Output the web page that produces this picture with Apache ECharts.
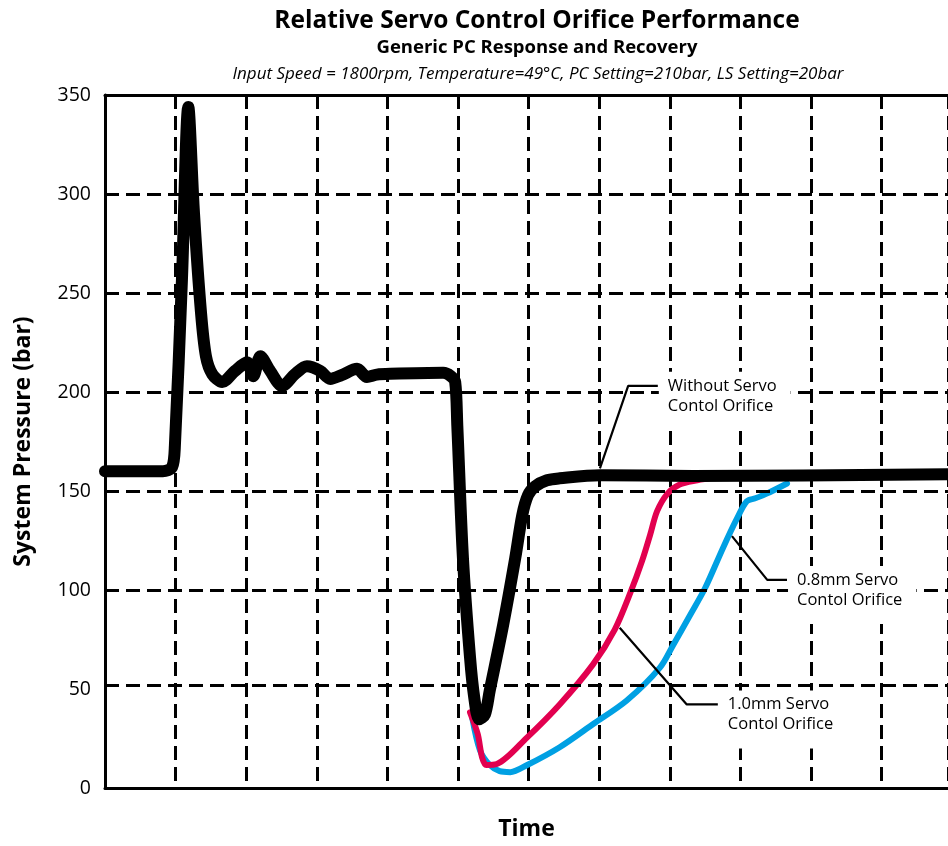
<!DOCTYPE html>
<html><head><meta charset="utf-8">
<script src="https://cdn.jsdelivr.net/npm/echarts@6/dist/echarts.min.js"></script>
<style>html,body{margin:0;padding:0;background:#fff}#c{width:948px;height:846px}</style>
</head><body><div id="c"></div>
<script>
// ---- data ----
const yTicks = [0, 50, 100, 150, 200, 250, 300, 350];
const yGridLines = [300, 250, 200, 150, 100, 52];

const blackX = [0, 0.82, 0.95, 0.99, 1.09, 1.18, 1.26, 1.36, 1.43, 1.52, 1.66, 1.84, 2.01, 2.10, 2.20, 2.34, 2.51, 2.69, 2.86, 3.05, 3.19, 3.35, 3.57, 3.71, 3.85, 4.04, 4.79, 4.90, 4.96, 4.99, 5.07, 5.17, 5.23, 5.30, 5.38, 5.45, 5.64, 5.81, 5.91, 5.99, 6.09, 6.26, 6.44, 7.01, 8.33, 11.94];
const blackY = [160, 160, 162, 173, 257, 344, 290.6, 240, 218, 209, 205, 210.6, 215, 208, 218, 210.6, 203, 209, 213, 210.6, 206.6, 208.5, 211.7, 207.6, 208.8, 209.2, 209.7, 208, 205, 183, 116, 66, 45.7, 34.7, 37, 49.3, 82.5, 116, 137.8, 147.8, 152.3, 155.4, 156.4, 158, 157.6, 158.4];

const redX = [5.17, 5.28, 5.34, 5.40, 5.55, 5.98, 6.44, 6.91, 7.22, 7.44, 7.61, 7.72, 7.82, 7.97, 8.14, 8.39, 8.64];
const redY = [38.2, 27.1, 15.6, 11.6, 12.1, 25.6, 42.2, 62.3, 80, 98.5, 115, 127.7, 139.8, 148.8, 153.3, 155.4, 156.9];

const blueX = [5.20, 5.31, 5.45, 5.59, 5.74, 5.98, 6.44, 6.91, 7.39, 7.86, 8.05, 8.29, 8.50, 8.75, 8.95, 9.09, 9.21, 9.38, 9.66];
const blueY = [35.7, 19.1, 11.6, 8.5, 8.0, 11.6, 20.6, 32.2, 44.2, 60.8, 72.4, 87.5, 101, 121, 136, 144.8, 146.3, 148.8, 153.8];

// annotation leaders (data units)
const leaderWithout = [[7.01, 161.4], [7.41, 203.1], [7.83, 203.1]];
const leader08 = [[8.88, 127.2], [9.38, 105.1], [9.66, 105.1]];
const leader10 = [[7.29, 80.9], [8.24, 42.2], [8.68, 42.2]];
const labelTexts = ['Without Servo\nContol Orifice', '0.8mm Servo\nContol Orifice', '1.0mm Servo\nContol Orifice'];

const titleText = 'Relative Servo Control Orifice Performance';
const subtitleText = 'Generic PC Response and Recovery';
const conditionsText = 'Input Speed = 1800rpm, Temperature=49°C, PC Setting=210bar, LS Setting=20bar';

// ---- chart ----
const zip = (xs, ys) => xs.map((x, i) => [x, ys[i]]);
const FONT = '"Open Sans", "Noto Sans", sans-serif';
const dash = [14, 7];
const leaders = [leaderWithout, leader08, leader10];

const chart = echarts.init(document.getElementById('c'), null, { renderer: 'canvas' });
const headerGraphics = [
  { type: 'text', x: 537, y: 21, style: { text: titleText, font: 'bold 24.5px ' + FONT, fill: '#000', textAlign: 'center', textVerticalAlign: 'middle' } },
  { type: 'text', x: 537, y: 48, style: { text: subtitleText, font: 'bold 18.5px ' + FONT, fill: '#000', textAlign: 'center', textVerticalAlign: 'middle' } },
  { type: 'text', x: 538, y: 74, style: { text: conditionsText, font: 'italic 17px ' + FONT, fill: '#000', textAlign: 'center', textVerticalAlign: 'middle' } }
];
chart.setOption({
  animation: false,
  backgroundColor: '#fff',
  grid: { left: 105, right: 0, top: 95, bottom: 55, containLabel: false },
  graphic: headerGraphics,
  xAxis: [
    {
      type: 'value', min: 0, max: 11.94, interval: 1,
      name: 'Time', nameLocation: 'middle', nameGap: 30,
      nameTextStyle: { fontFamily: FONT, fontWeight: 'bold', fontSize: 23, color: '#000' },
      axisLine: { show: true, lineStyle: { color: '#000', width: 3 } },
      axisTick: { show: false }, axisLabel: { show: false },
      splitLine: { show: true, lineStyle: { color: '#000', width: 3, type: dash } }
    },
    {
      type: 'value', position: 'top', min: 0, max: 11.94,
      axisLine: { show: true, lineStyle: { color: '#000', width: 3 } },
      axisTick: { show: false }, axisLabel: { show: false }, splitLine: { show: false }
    }
  ],
  yAxis: {
    type: 'value', min: 0, max: 350, interval: 50,
    name: 'System Pressure (bar)', nameLocation: 'middle', nameGap: 70, nameRotate: 90,
    nameTextStyle: { fontFamily: FONT, fontWeight: 'bold', fontSize: 23, color: '#000' },
    axisLine: { show: true, lineStyle: { color: '#000', width: 3 } },
    axisTick: { show: false },
    axisLabel: { fontFamily: FONT, fontSize: 19.5, color: '#000', margin: 14,
      formatter: v => (yTicks.indexOf(v) >= 0 ? String(v) : '') },
    splitLine: { show: false }
  },
  series: [
    {
      type: 'line', data: [], silent: true,
      markLine: {
        silent: true, symbol: ['none', 'none'], label: { show: false },
        lineStyle: { color: '#000', width: 3, type: dash },
        data: yGridLines.map(v => ({ yAxis: v }))
      }
    },
    {
      name: '0.8mm', type: 'line', data: zip(blueX, blueY), smooth: 0.3, showSymbol: false,
      lineStyle: { color: '#00a0e3', width: 6, cap: 'round', join: 'round' }
    },
    {
      name: '1.0mm', type: 'line', data: zip(redX, redY), smooth: 0.3, showSymbol: false,
      lineStyle: { color: '#e2004f', width: 6, cap: 'round', join: 'round' }
    },
    {
      name: 'Without', type: 'line', data: zip(blackX, blackY), smooth: 0.3, showSymbol: false,
      lineStyle: { color: '#000', width: 12, cap: 'round', join: 'round' }
    },
    ...leaders.map(l => ({
      type: 'line', data: l, showSymbol: false, silent: true,
      lineStyle: { color: '#000', width: 2.2 }
    }))
  ]
});

// annotation texts anchored at the data-space end of each leader line
const labelGraphics = leaders.map((l, i) => {
  const p = chart.convertToPixel({ gridIndex: 0 }, l[l.length - 1]);
  return {
    type: 'text', x: p[0] + 1, y: p[1] - 14, z: 100,
    style: {
      text: labelTexts[i], font: '16.5px ' + FONT, fill: '#000', lineHeight: 20,
      backgroundColor: '#fff', padding: [4, 14, 14, 9], textAlign: 'left', textVerticalAlign: 'top'
    }
  };
});
chart.setOption({ graphic: headerGraphics.concat(labelGraphics) });
</script></body></html>
